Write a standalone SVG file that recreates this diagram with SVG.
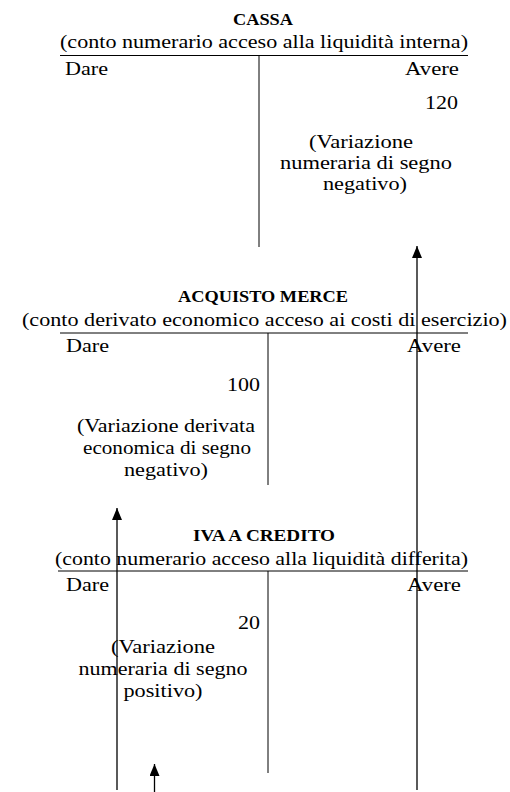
<svg xmlns="http://www.w3.org/2000/svg" width="510" height="792" viewBox="0 0 510 792">
<style>
.t{font-family:"Liberation Serif","Times New Roman",serif;font-size:19.5px;fill:#000}
.b{font-family:"Liberation Serif","Times New Roman",serif;font-size:16px;font-weight:bold;fill:#000}
.rule{stroke:#000;stroke-width:1;fill:none}
.arrow{stroke:#000;stroke-width:1.3;fill:none}
</style>
<defs>
<marker id="head" markerUnits="userSpaceOnUse" markerWidth="12" markerHeight="10" refX="12" refY="5" orient="auto">
<path d="M0,0 L12,5 L0,10 z" fill="#000"/>
</marker>
</defs>
<rect width="510" height="792" fill="#fff"/>
<g id="cassa">
<text class="b" x="263" y="25" text-anchor="middle" textLength="60" lengthAdjust="spacingAndGlyphs">CASSA</text>
<text class="t" x="60" y="47.5" textLength="408" lengthAdjust="spacingAndGlyphs">(conto numerario acceso alla liquidità interna)</text>
<line class="rule" x1="60" y1="55.5" x2="468" y2="55.5"/>
<line class="rule" x1="259" y1="55.5" x2="259" y2="247"/>
<text class="t" x="65" y="75" textLength="43" lengthAdjust="spacingAndGlyphs">Dare</text>
<text class="t" x="459" y="75" text-anchor="end" textLength="54" lengthAdjust="spacingAndGlyphs">Avere</text>
<text class="t" x="458" y="109" text-anchor="end" textLength="33" lengthAdjust="spacingAndGlyphs">120</text>
<text class="t" x="361" y="148" text-anchor="middle" textLength="104" lengthAdjust="spacingAndGlyphs">(Variazione</text>
<text class="t" x="366" y="169" text-anchor="middle" textLength="172" lengthAdjust="spacingAndGlyphs">numeraria di segno</text>
<text class="t" x="365" y="190" text-anchor="middle" textLength="84" lengthAdjust="spacingAndGlyphs">negativo)</text>
</g>
<g id="acquisto-merce">
<text class="b" x="263" y="301.5" text-anchor="middle" textLength="170" lengthAdjust="spacingAndGlyphs">ACQUISTO MERCE</text>
<text class="t" x="22" y="325.5" textLength="485" lengthAdjust="spacingAndGlyphs">(conto derivato economico acceso ai costi di esercizio)</text>
<line class="rule" x1="60" y1="333" x2="468" y2="333"/>
<line class="rule" x1="268" y1="333" x2="268" y2="485"/>
<text class="t" x="66" y="352" textLength="43" lengthAdjust="spacingAndGlyphs">Dare</text>
<text class="t" x="461" y="352" text-anchor="end" textLength="54" lengthAdjust="spacingAndGlyphs">Avere</text>
<text class="t" x="260" y="391" text-anchor="end" textLength="33" lengthAdjust="spacingAndGlyphs">100</text>
<text class="t" x="166" y="431.5" text-anchor="middle" textLength="178" lengthAdjust="spacingAndGlyphs">(Variazione derivata</text>
<text class="t" x="167" y="453.5" text-anchor="middle" textLength="168" lengthAdjust="spacingAndGlyphs">economica di segno</text>
<text class="t" x="166" y="475.5" text-anchor="middle" textLength="84" lengthAdjust="spacingAndGlyphs">negativo)</text>
</g>
<g id="iva-a-credito">
<text class="b" x="264" y="540.5" text-anchor="middle" textLength="142" lengthAdjust="spacingAndGlyphs">IVA A CREDITO</text>
<text class="t" x="55" y="564.5" textLength="413" lengthAdjust="spacingAndGlyphs">(conto numerario acceso alla liquidità differita)</text>
<line class="rule" x1="58" y1="571" x2="468" y2="571"/>
<line class="rule" x1="268" y1="571" x2="268" y2="773"/>
<text class="t" x="66" y="591" textLength="43" lengthAdjust="spacingAndGlyphs">Dare</text>
<text class="t" x="461" y="591" text-anchor="end" textLength="54" lengthAdjust="spacingAndGlyphs">Avere</text>
<text class="t" x="260" y="629" text-anchor="end" textLength="22" lengthAdjust="spacingAndGlyphs">20</text>
<text class="t" x="163" y="652.5" text-anchor="middle" textLength="104" lengthAdjust="spacingAndGlyphs">(Variazione</text>
<text class="t" x="163" y="674.5" text-anchor="middle" textLength="169" lengthAdjust="spacingAndGlyphs">numeraria di segno</text>
<text class="t" x="163" y="696.5" text-anchor="middle" textLength="79" lengthAdjust="spacingAndGlyphs">positivo)</text>
</g>
<g id="connectors">
<line class="arrow" x1="417" y1="790" x2="417" y2="246" marker-end="url(#head)"/>
<line class="arrow" x1="117" y1="790" x2="117" y2="508" marker-end="url(#head)"/>
<line class="arrow" x1="154.5" y1="792" x2="154.5" y2="764" marker-end="url(#head)"/>
</g>
</svg>
